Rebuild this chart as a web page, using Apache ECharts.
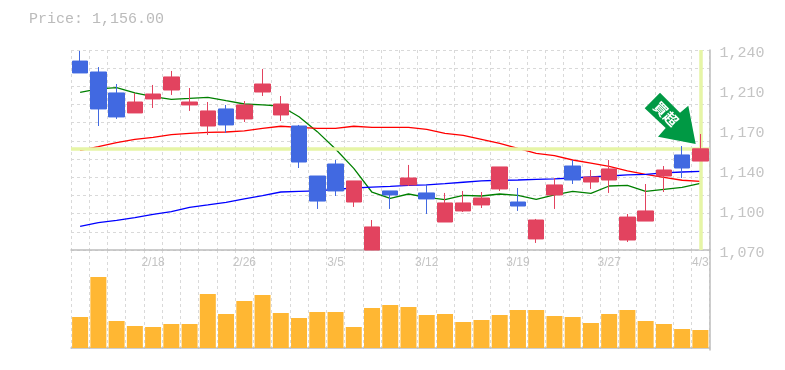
<!DOCTYPE html>
<html><head><meta charset="utf-8">
<style>html,body{margin:0;padding:0;background:#fff}#c{width:785px;height:370px}</style>
<script src="https://cdn.jsdelivr.net/npm/echarts@6/dist/echarts.min.js"></script>
</head><body><div id="c"></div>
<script>
const dates=['2/12','2/13','2/14','2/17','2/18','2/19','2/20','2/21','2/25','2/26','2/27','2/28','3/3','3/4','3/5','3/6','3/7','3/10','3/11','3/12','3/13','3/14','3/17','3/18','3/19','3/21','3/24','3/25','3/26','3/27','3/28','3/31','4/1','4/2','4/3'];
const opens=[1230.6,1221.3,1203.5,1186.5,1198.4,1206,1193.3,1175.4,1189.9,1181.4,1204.3,1184.8,1175.4,1132.9,1143.1,1110.8,1070,1120.2,1125.3,1118.5,1093.8,1103.2,1108.3,1121.9,1110.8,1079.4,1116.8,1141.4,1127.8,1129.5,1078.5,1094.6,1132.9,1150.8,1145.6];
const closes=[1220.5,1189.9,1183.1,1195.8,1202.6,1217.1,1195.8,1188.2,1176.3,1193.3,1211.1,1194.1,1144.8,1111.6,1120.2,1128.7,1089.6,1116.8,1131.2,1113.4,1110,1110,1114.2,1140.6,1107.4,1095.5,1125.3,1129.5,1132,1138.9,1098,1103.2,1138,1139.7,1156];
const lows=[1220.5,1175.4,1181.4,1186.5,1190.7,1201.8,1188.2,1167.8,1169.5,1178.8,1200.9,1179.7,1139.7,1104.9,1115.9,1106.6,1070,1104.9,1124.4,1100.6,1093.8,1102.3,1105.7,1120.2,1103.2,1076,1104.9,1126.1,1121.9,1118.5,1076.8,1094.6,1119.3,1131.2,1145.6];
const highs=[1239.2,1225.5,1211.1,1203.5,1210.3,1222.2,1207.7,1195.8,1193.3,1196.6,1223.9,1200.9,1176.3,1132.9,1146.5,1128.7,1095.5,1120.2,1142.3,1126.1,1118.5,1120.2,1119.3,1140.6,1122.7,1096.4,1131.2,1146.5,1138,1146.5,1100.6,1126.1,1141.4,1158.4,1168.6];
const volumes=[310,710,270,220,210,240,240,540,340,470,530,350,300,360,360,210,400,430,410,330,340,260,280,330,380,380,320,310,250,340,380,270,240,190,180];
const maShort=[1204,1206.9,1208.1,1203.5,1200.3,1198.1,1198.9,1199.8,1196.9,1194.1,1193.3,1192.4,1183.3,1170.6,1155.9,1139.4,1119.1,1113.9,1117.6,1114.8,1112.8,1116.5,1115.9,1117.6,1116.5,1113.1,1116.8,1119.9,1118.2,1124.4,1125,1119.9,1121.6,1123.3,1126.7];
const maMid=[1154.7,1157.8,1161.2,1164.1,1165.8,1168,1169.2,1170,1170.3,1171.2,1173.4,1175.2,1174.3,1173.4,1173.4,1175.2,1174.3,1174.3,1174.3,1172.6,1169.2,1167.5,1164.1,1160.7,1156.4,1152.2,1150.2,1146.5,1143.9,1141.1,1137.2,1134.3,1131.8,1129.3,1128.4];
const maLong=[1090.1,1093.2,1095.2,1097.5,1100.3,1102.6,1106.3,1108.3,1110.5,1113.4,1116.2,1119.3,1119.9,1120.2,1121.6,1122.7,1123.5,1124.1,1125,1125.3,1126.4,1127.6,1128.7,1129.3,1129.5,1130.1,1130.4,1131.2,1132.1,1132.9,1133.8,1134.3,1135.5,1136.3,1136.9];
const priceTicks=[1070,1104,1138,1172,1206,1240];
const priceGrid=[1070,1085.45,1100.91,1116.36,1131.82,1147.27,1162.73,1178.18,1193.64,1209.09,1224.55,1240];
const lastPrice=1156;
const titleText='Price: 1,156.00';
const badgeText='買超';

const GREY='#bdbdbd',DASH='#d9d9d9',MONO='"Liberation Mono",monospace';
const dash={show:true,interval:0,lineStyle:{color:DASH,width:1,type:[3,3]}};
const chart=echarts.init(document.getElementById('c'),null,{renderer:'canvas'});
const fmt=v=>{const r=Math.round(v/10)*10;return '{a|'+String(r).replace(/\B(?=(\d{3})+$)/g,',')+'}';};
const mkLine=(name,data,color)=>({name,type:'line',data,xAxisIndex:0,yAxisIndex:0,showSymbol:false,z:3,lineStyle:{color,width:1.3},silent:true});
chart.setOption({
 animation:false,
 backgroundColor:'#fff',
 title:{text:titleText,left:29,top:12,padding:0,textStyle:{fontFamily:MONO,fontSize:15,fontWeight:'normal',color:'#bbbbbb'}},
 grid:[{left:71,top:50,width:638.5,height:200},{left:71,top:250,width:638.5,height:100}],
 xAxis:[
  {type:'category',gridIndex:0,data:dates,boundaryGap:true,
   axisLine:{show:true,lineStyle:{color:GREY,width:1.5}},axisTick:{show:false},
   axisLabel:{interval:(i)=>i%5===4,margin:7,fontFamily:'"Liberation Sans",sans-serif',fontSize:12,color:'#c4c4c4',hideOverlap:false,showMaxLabel:true},
   splitLine:dash},
  {type:'category',gridIndex:1,data:dates,boundaryGap:true,
   axisLine:{show:true,lineStyle:{color:GREY,width:1.5}},axisTick:{show:false},axisLabel:{show:false},
   splitLine:dash}
 ],
 yAxis:[
  {type:'value',gridIndex:0,position:'right',min:1070,max:1240,scale:true,
   axisLine:{show:true,lineStyle:{color:GREY,width:1.5}},
   axisTick:{show:false,customValues:priceGrid},
   axisLabel:{customValues:priceTicks,formatter:fmt,margin:10,
    rich:{a:{fontFamily:MONO,fontSize:15,color:'#c4c4c4',padding:[6,0,0,0]}}},
   splitLine:{show:true,lineStyle:{color:DASH,width:1,type:[3,3]}}},
  {type:'value',gridIndex:1,position:'right',min:-20,max:980,
   axisLine:{show:true,lineStyle:{color:GREY,width:1.5}},axisTick:{show:false},axisLabel:{show:false},splitLine:{show:false}}
 ],
 series:[
  {name:'last',type:'line',data:[],xAxisIndex:0,yAxisIndex:0,z:2,silent:true,
   markLine:{silent:true,symbol:'none',label:{show:false},animation:false,
    lineStyle:{color:'#e6f5a6',width:3.5,type:'solid'},
    data:[{yAxis:lastPrice},{xAxis:dates[dates.length-1]}]}},
  mkLine('short',maShort,'#008000'),
  mkLine('mid',maMid,'#ff0000'),
  mkLine('long',maLong,'#0000ff'),
  {name:'price',type:'candlestick',xAxisIndex:0,yAxisIndex:0,z:5,barWidth:16,silent:true,clip:true,
   data:opens.map((o,i)=>[o,closes[i],lows[i],highs[i]]),
   itemStyle:{color:'#e2435f',color0:'#4169e1',borderColor:'#e2435f',borderColor0:'#4169e1',borderWidth:1}},
  {name:'volume',type:'bar',xAxisIndex:1,yAxisIndex:1,data:volumes,barWidth:16,silent:true,itemStyle:{color:'#ffb733'}}
 ],
 graphic:[
  {type:'polygon',z:20,silent:true,shape:{points:[[660,92.7],[680,112.7],[688.3,105.7],[695.7,144],[658,136.7],[665.7,128],[644.7,108.3]]},style:{fill:'#009944'}},
  {type:'text',z:21,silent:true,x:666,y:114,rotation:-Math.PI/4,style:{text:badgeText,fontFamily:'"Noto Sans CJK JP"',fontSize:14,fontWeight:'bold',fill:'#ffffff',align:'center',verticalAlign:'middle'}}
 ]
});
</script></body></html>
